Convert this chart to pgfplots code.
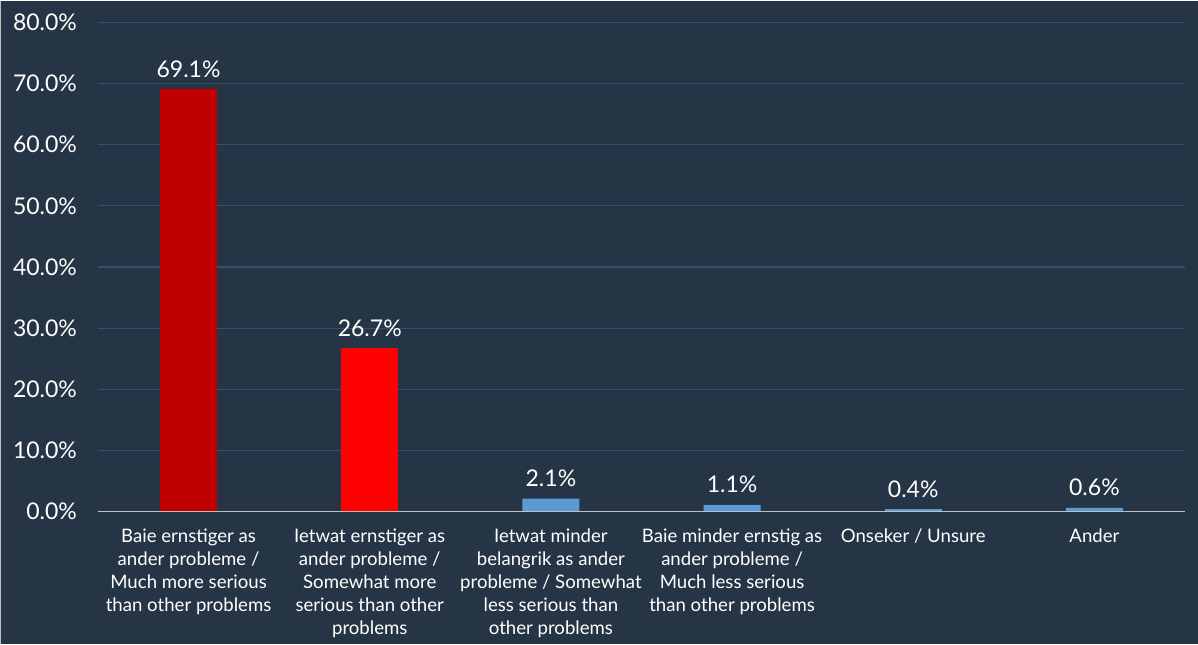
\documentclass[border=0pt]{standalone}
\usepackage{pgfplots}
\pgfplotsset{compat=1.18}
\usepackage{fontspec}
\setmainfont{Lato}
\definecolor{bg}{HTML}{263545}
\definecolor{gridc}{HTML}{34506E}
\definecolor{axc}{HTML}{BFBFBF}
\definecolor{dred}{HTML}{C00000}
\definecolor{bred}{HTML}{FF0000}
\definecolor{lblue}{HTML}{5B9BD5}
\begin{document}
\begin{tikzpicture}
\fill[bg] (-49pt,-66pt) rectangle (550pt,255.5pt);
\draw[axc, line width=0.5pt] (-48.75pt,-66pt) -- (-48.75pt,255.5pt);
\begin{axis}[
  at={(0,0)}, anchor=south west,
  scale only axis, width=543.5pt, height=244.5pt,
  xmin=-0.5, xmax=5.5, ymin=0, ymax=80,
  ybar, bar width=28.5pt, bar shift=0pt,
  axis line style={draw=none},
  major tick length=0pt,
  ytick={0,10,...,80},
  ymajorgrids, grid style={gridc, line width=0.6pt},
  xtick={0,1,2,3,4,5},
  xticklabels={
    {Baie ernstiger as\\ander probleme /\\Much more serious\\than other problems},
    {Ietwat ernstiger as\\ander probleme /\\Somewhat more\\serious than other\\problems},
    {Ietwat minder\\belangrik as ander\\probleme / Somewhat\\less serious than\\other problems},
    {Baie minder ernstig as\\ander probleme /\\Much less serious\\than other problems},
    {Onseker / Unsure},
    {Ander}},
  xticklabel style={align=center, anchor=north, yshift=-5pt, text=white,
    font=\fontsize{9.3}{11.5}\selectfont},
  yticklabel={\pgfmathprintnumber[fixed,fixed zerofill,precision=1]{\tick}\%},
  yticklabel style={anchor=east, xshift=-7pt, text=white, font=\fontsize{11.5}{13}\selectfont},
  /pgf/number format/assume math mode=true,
  nodes near coords={\pgfmathprintnumber[fixed,fixed zerofill,precision=1]{\pgfplotspointmeta}\%},
  nodes near coords style={anchor=base, yshift=6pt, text=white, font=\fontsize{11.5}{13}\selectfont},
  clip=false,
]
\addplot[fill=dred, draw=none] coordinates {(0,69.1)};
\addplot[fill=bred, draw=none] coordinates {(1,26.7)};
\addplot[fill=lblue, draw=none] coordinates {(2,2.1) (3,1.1) (4,0.4) (5,0.6)};
\draw[axc, line width=0.75pt] (axis cs:-0.5,0) -- (axis cs:5.5,0);
\end{axis}
\end{tikzpicture}
\end{document}
